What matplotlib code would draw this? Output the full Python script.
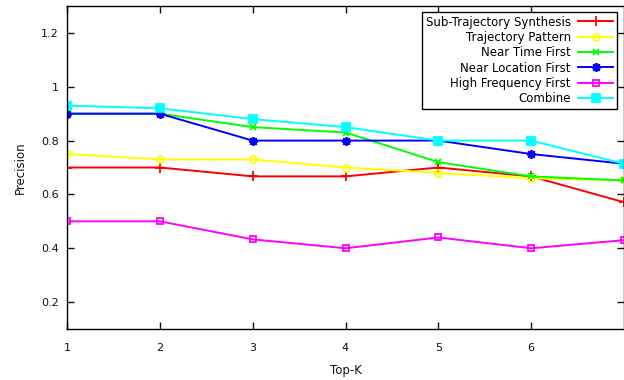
import matplotlib
matplotlib.use("Agg")
import matplotlib.pyplot as plt

top_k = [1, 2, 3, 4, 5, 6, 7]
sub_traj = [0.7, 0.7, 0.667, 0.667, 0.7, 0.667, 0.571]
traj_pattern = [0.75, 0.73, 0.73, 0.70, 0.68, 0.66, 0.652]
near_time = [0.9, 0.9, 0.85, 0.83, 0.72, 0.667, 0.652]
near_loc = [0.9, 0.9, 0.8, 0.8, 0.8, 0.75, 0.714]
high_freq = [0.5, 0.5, 0.433, 0.4, 0.44, 0.4, 0.43]
combine = [0.93, 0.92, 0.88, 0.85, 0.8, 0.8, 0.714]

series = [
    ("Sub-Trajectory Synthesis", sub_traj, "#ff0000", dict(marker="+", markersize=6.5)),
    ("Trajectory Pattern", traj_pattern, "#ffff00", dict(marker="o", markerfacecolor="none", markersize=5)),
    ("Near Time First", near_time, "#00ff00", dict(marker="x", markersize=5)),
    ("Near Location First", near_loc, "#0000ff", dict(marker=(8, 2, 0), markersize=6.5)),
    ("High Frequency First", high_freq, "#ff00ff", dict(marker="s", markerfacecolor="none", markersize=5)),
    ("Combine", combine, "#00ffff", dict(marker="s", markersize=5.5)),
]

fig = plt.figure(figsize=(6.24, 3.8), dpi=100)
ax = fig.add_axes([67 / 624, 1 - 329 / 380, 1 - 67 / 624, (329 - 6) / 380])

for label, vals, color, mk in series:
    ax.plot(top_k, vals, color=color, lw=1.4, markeredgewidth=1.3, label=label, **mk)

ax.set_xlim(1, 7)
ax.set_ylim(0.1, 1.3)
ax.set_xticks([1, 2, 3, 4, 5, 6])
ax.set_yticks([0.2, 0.4, 0.6, 0.8, 1.0, 1.2])
ax.set_yticklabels(["0.2", "0.4", "0.6", "0.8", "1", "1.2"])
ax.tick_params(direction="in", top=True, right=True, length=5, width=1,
               labelsize=8, colors="#111111", pad=10)
ax.tick_params(axis="y", pad=6)
for s in ax.spines.values():
    s.set_linewidth(1)

ax.set_xlabel("Top-K", fontsize=8.5, color="#111111", labelpad=8)
ax.set_ylabel("Precision", fontsize=8.5, color="#111111", labelpad=10)

leg = ax.legend(loc="upper right", bbox_to_anchor=(617 / 624, 1 - 12 / 380),
                bbox_transform=fig.transFigure, borderaxespad=0, markerfirst=False,
                fontsize=8.5, frameon=True, fancybox=False, framealpha=1,
                edgecolor="black", handlelength=3, labelspacing=0.2,
                borderpad=0.3, handletextpad=0.6)
leg.get_frame().set_linewidth(1)

fig.savefig("out.png", dpi=100)
